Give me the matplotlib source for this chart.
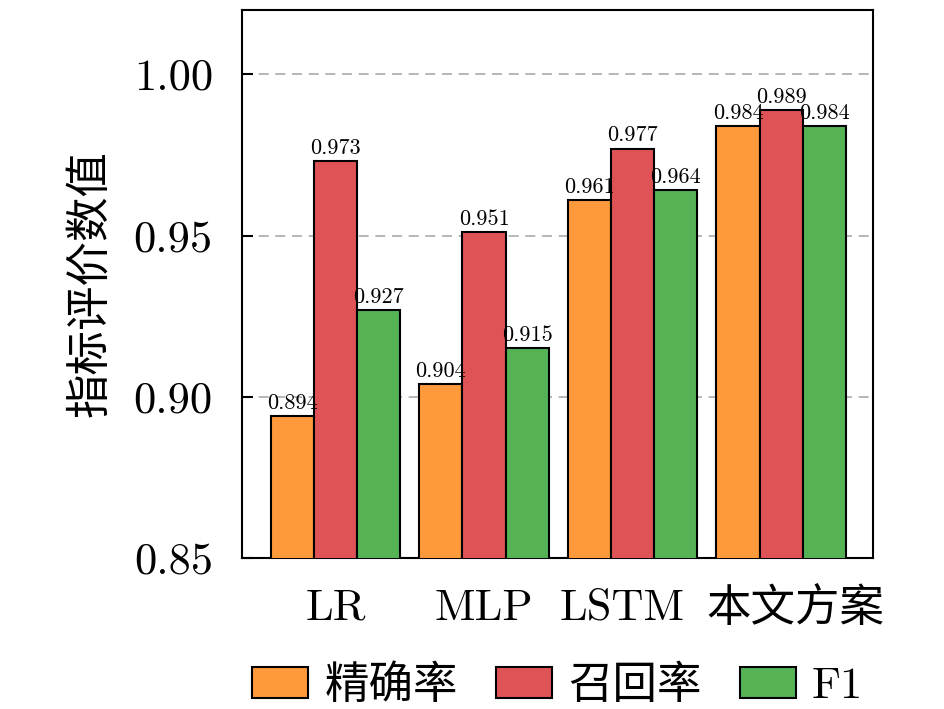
import numpy as np
import matplotlib
matplotlib.use("Agg")
import matplotlib.pyplot as plt
from matplotlib.transforms import ScaledTranslation

plt.rcParams['font.family'] = ['cmr10', 'Noto Sans CJK SC']
plt.rcParams['axes.formatter.use_mathtext'] = True
plt.rcParams['axes.unicode_minus'] = False

# data
models = ['LR', 'MLP', 'LSTM', '本文方案']
series = ['精确率', '召回率', 'F1']
precision = [0.894, 0.904, 0.961, 0.984]
recall = [0.973, 0.951, 0.977, 0.989]
f1 = [0.927, 0.915, 0.964, 0.984]
yticks = [0.85, 0.90, 0.95, 1.00]

colors = ['#FF9A3C', '#DF5357', '#55B356']
values = [precision, recall, f1]

fig = plt.figure(figsize=(9.45, 7.09), dpi=100)
ax = fig.add_axes([0.256, 0.213, 0.668, 0.773])

x = np.arange(len(models))
w = 0.29
for i, (name, vals, c) in enumerate(zip(series, values, colors)):
    pos = x + (i - 1) * w
    bars = ax.bar(pos, vals, w, color=c, edgecolor='black', linewidth=1.5,
                  label=name, zorder=3)
    for b, v in zip(bars, vals):
        ax.text(b.get_x() + b.get_width() / 2, v + 0.001, f'{v:.3f}',
                ha='center', va='bottom', fontsize=16, zorder=4)

ax.set_ylim(0.85, 1.02)
ax.set_xlim(-0.63, 3.62)
ax.set_yticks(yticks)
ax.set_yticklabels([f'{t:.2f}' for t in yticks], fontsize=32)
ax.set_xticks(x)
ax.set_xticklabels(models, fontsize=32)
ax.tick_params(axis='y', direction='in', length=8, width=1.5, pad=21)
ax.tick_params(axis='x', length=0, pad=22)
ax.grid(axis='y', linestyle='--', color='#AAAAAA', linewidth=1.2, dashes=(6, 4), zorder=0)
for s in ax.spines.values():
    s.set_linewidth(1.5)
ax.set_ylabel('指标评价数值', fontsize=32, labelpad=16)

# spread the last two labels apart a little, as in the original
shifts = [0, 0, -10, 14]
for lbl, dx in zip(ax.get_xticklabels(), shifts):
    lbl.set_transform(lbl.get_transform() + ScaledTranslation(dx / 100, 0, fig.dpi_scale_trans))

ax.legend(loc='center', bbox_to_anchor=(0.5, -0.234), ncol=3, frameon=False,
          fontsize=32, handlelength=1.26, handleheight=0.68, columnspacing=0.86,
          handletextpad=0.36)

fig.savefig('out.png', dpi=100)
